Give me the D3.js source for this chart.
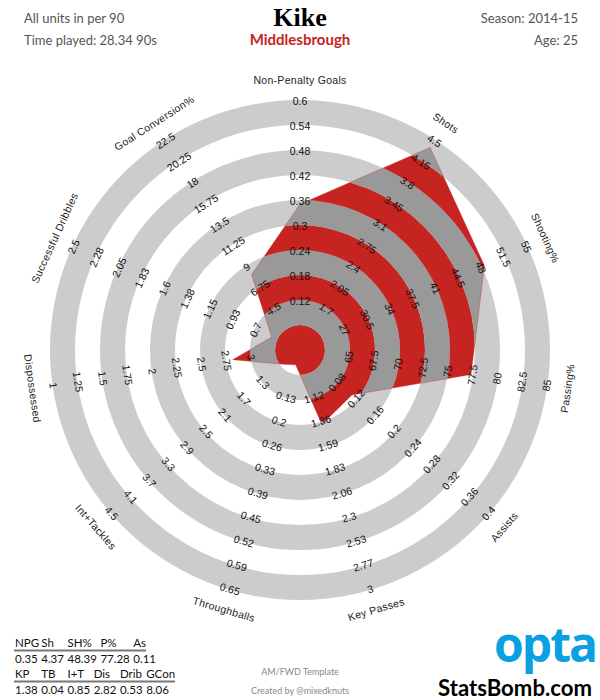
<!DOCTYPE html>
<html>
<head>
<meta charset="utf-8">
<script src="https://cdn.jsdelivr.net/npm/d3@7"></script>
<style>
  html, body { margin: 0; padding: 0; background: #fff; }
  svg { display: block; }
</style>
</head>
<body>
<svg id="chart" width="600" height="700"></svg>
<script>
// ---- data ----
const categories = ["Non-Penalty Goals", "Shots", "Shooting%", "Passing%", "Assists", "Key Passes",
  "Throughballs", "Int+Tackles", "Dispossessed", "Successful Dribbles", "Goal Conversion%"];
const axisMin = [0, 1, 20, 60, 0, 0.65, 0, 0.5, 3.5, 0.25, 0];
const axisMax = [0.6, 4.5, 55, 85, 0.4, 3, 0.65, 4.5, 1, 2.5, 22.5];
const values = [0.35, 4.37, 48.39, 77.28, 0.11, 1.38, 0.04, 0.85, 2.82, 0.53, 8.06];
const tickLabels = [
  ["0.12", "0.18", "0.24", "0.3", "0.36", "0.42", "0.48", "0.54", "0.6"],
  ["1.7", "2.05", "2.4", "2.75", "3.1", "3.45", "3.8", "4.15", "4.5"],
  ["27", "30.5", "34", "37.5", "41", "44.5", "48", "51.5", "55"],
  ["65", "67.5", "70", "72.5", "75", "77.5", "80", "82.5", "85"],
  ["0.08", "0.12", "0.16", "0.2", "0.24", "0.28", "0.32", "0.36", "0.4"],
  ["1.12", "1.36", "1.59", "1.83", "2.06", "2.3", "2.53", "2.77", "3"],
  ["0.13", "0.2", "0.26", "0.33", "0.39", "0.45", "0.52", "0.59", "0.65"],
  ["1.3", "1.7", "2.1", "2.5", "2.9", "3.3", "3.7", "4.1", "4.5"],
  ["3", "2.75", "2.5", "2.25", "2", "1.75", "1.5", "1.25", "1"],
  ["0.7", "0.93", "1.15", "1.38", "1.6", "1.83", "2.05", "2.28", "2.5"],
  ["4.5", "6.75", "9", "11.25", "13.5", "15.75", "18", "20.25", "22.5"]
];
const tableHeader1 = ["NPG", "Sh", "SH%", "P%", "As"];
const tableValues1 = ["0.35", "4.37", "48.39", "77.28", "0.11"];
const tableHeader2 = ["KP", "TB", "I+T", "Dis", "Drib", "GCon"];
const tableValues2 = ["1.38", "0.04", "0.85", "2.82", "0.53", "8.06"];
const bandCount = 10;

// ---- layout ----
const cx = 300, cy = 350, R = 250, bandW = R / bandCount;
const RED = "#c62421", DARK = "#999999", LIGHT = "#cccccc";
const svg = d3.select("#chart");
const n = categories.length;
const angleDeg = i => i * 360 / n;
const angleRad = i => i * 2 * Math.PI / n;
const scales = categories.map((c, i) => d3.scaleLinear().domain([axisMin[i], axisMax[i]]).range([0, R]));

const g = svg.append("g").attr("transform", `translate(${cx},${cy})`);
const arc = d3.arc().startAngle(0).endAngle(2 * Math.PI);
const bands = d3.range(bandCount).map(k => ({ k, inner: k * bandW, outer: (k + 1) * bandW }));

// background bands (light grey for odd bands)
g.selectAll("path.bg").data(bands.filter(b => b.k % 2 === 1)).join("path")
  .attr("class", "bg").attr("fill", LIGHT)
  .attr("d", b => arc({ innerRadius: b.inner, outerRadius: b.outer }));

// polygon
const pts = values.map((v, i) => {
  const r = scales[i](v);
  return [r * Math.sin(angleRad(i)), -r * Math.cos(angleRad(i))];
});
const polyLine = d3.line().curve(d3.curveLinearClosed);
svg.append("defs").append("clipPath").attr("id", "polyClip")
  .append("path").attr("d", polyLine(pts));

const clipped = g.append("g").attr("clip-path", "url(#polyClip)");
clipped.selectAll("path").data(bands).join("path")
  .attr("fill", b => b.k % 2 === 1 ? DARK : RED)
  .attr("d", b => arc({ innerRadius: b.inner, outerRadius: b.outer }));
g.append("path").attr("d", polyLine(pts)).attr("fill", "none")
  .attr("stroke", RED).attr("stroke-opacity", 0.6).attr("stroke-width", 0.6);

// tick labels
function rot(i) {
  const a = angleDeg(i);
  return (a > 90 && a < 270) ? a - 180 : a;
}
categories.forEach((c, i) => {
  const a = angleRad(i);
  tickLabels[i].forEach((t, j) => {
    const r = (j + 2) * bandW - 1;
    const x = r * Math.sin(a), y = -r * Math.cos(a);
    g.append("text").attr("transform", `translate(${x},${y}) rotate(${rot(i)})`)
      .attr("text-anchor", "middle").attr("dominant-baseline", "central")
      .attr("font-family", "Liberation Sans, Arial, sans-serif").attr("font-size", 10.5)
      .attr("fill", "#111").text(t);
  });
  const rt = R + 20;
  g.append("text").attr("transform", `translate(${rt * Math.sin(a)},${-rt * Math.cos(a)}) rotate(${rot(i)})`)
    .attr("text-anchor", "middle").attr("dominant-baseline", "central")
    .attr("font-family", "Liberation Sans, Arial, sans-serif").attr("font-size", 10.5)
    .attr("letter-spacing", 0.3).attr("fill", "#222").text(c);
});

// ---- header ----
const sideFont = "Lato, 'Open Sans', sans-serif";
svg.append("text").attr("x", 300).attr("y", 26).attr("text-anchor", "middle")
  .attr("font-family", "'Liberation Serif', serif").attr("font-weight", "bold")
  .attr("font-size", 26).attr("fill", "#000").text("Kike");
svg.append("text").attr("x", 300).attr("y", 45).attr("text-anchor", "middle")
  .attr("font-family", sideFont).attr("font-weight", "bold")
  .attr("font-size", 15).attr("fill", RED).text("Middlesbrough");
[["All units in per 90", 23], ["Time played: 28.34 90s", 45]].forEach(([t, y]) =>
  svg.append("text").attr("x", 24).attr("y", y).attr("font-family", sideFont)
    .attr("font-size", 13).attr("fill", "#555").text(t));
[["Season: 2014-15", 23], ["Age: 25", 45]].forEach(([t, y]) =>
  svg.append("text").attr("x", 578).attr("y", y).attr("text-anchor", "end").attr("font-family", sideFont)
    .attr("font-size", 13).attr("fill", "#555").text(t));

// ---- table (columns laid out from measured value widths) ----
const tFont = 11.5, tGap = 3.5;
function tableBlock(headers, vals, yHead, yVal, lineEnd) {
  let x = 15;
  const xs = [];
  vals.forEach(t => {
    xs.push(x);
    const el = svg.append("text").attr("x", x).attr("y", yVal)
      .attr("font-family", sideFont).attr("font-size", tFont).attr("fill", "#111").text(t);
    x += el.node().getComputedTextLength() + tGap;
  });
  headers.forEach((t, i) => svg.append("text").attr("x", xs[i]).attr("y", yHead)
    .attr("font-family", sideFont).attr("font-size", tFont).attr("fill", "#111").text(t));
  svg.append("line").attr("x1", 14).attr("x2", lineEnd).attr("y1", yHead + 3.5).attr("y2", yHead + 3.5)
    .attr("stroke", "#777").attr("stroke-width", 2);
}
tableBlock(tableHeader1, tableValues1, 647, 663, 146);
tableBlock(tableHeader2, tableValues2, 678, 694, 175);

// ---- footer ----
svg.append("text").attr("x", 300).attr("y", 675).attr("text-anchor", "middle")
  .attr("font-family", sideFont).attr("font-size", 9).attr("fill", "#888").text("AM/FWD Template");
svg.append("text").attr("x", 300).attr("y", 694).attr("text-anchor", "middle")
  .attr("font-family", sideFont).attr("font-size", 9).attr("fill", "#888").text("Created by @mixedknuts");
svg.append("text").attr("x", 545).attr("y", 662).attr("text-anchor", "middle")
  .attr("font-family", "'Open Sans', sans-serif").attr("font-weight", "bold")
  .attr("font-size", 48).attr("letter-spacing", -2).attr("fill", "#0aa0e2").text("opta");
svg.append("text").attr("x", 438).attr("y", 696)
  .attr("font-family", "Lato, sans-serif").attr("font-weight", "bold")
  .attr("font-size", 22).attr("textLength", 154).attr("lengthAdjust", "spacingAndGlyphs")
  .attr("fill", "#000").text("StatsBomb.com");
</script>
</body>
</html>
